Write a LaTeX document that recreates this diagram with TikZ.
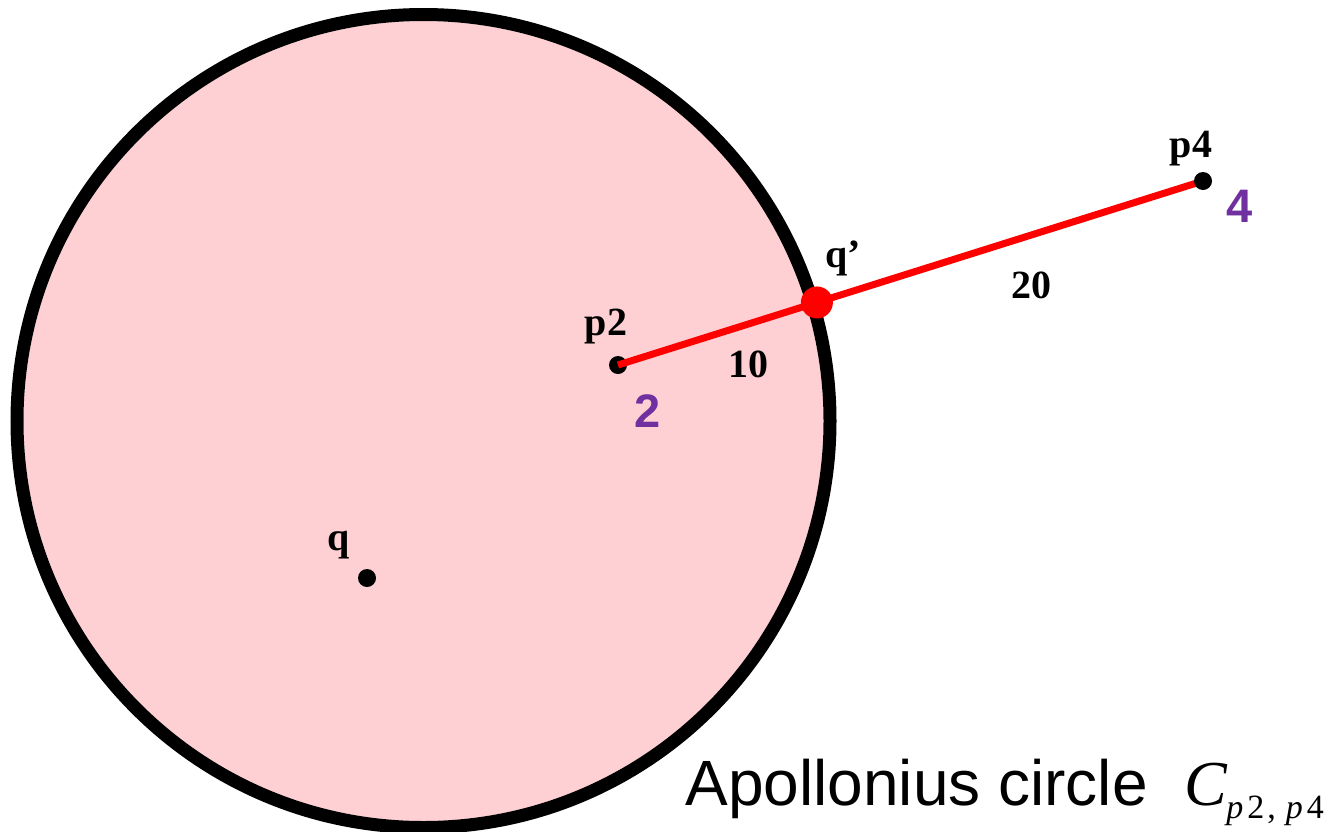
\documentclass[tikz,border=0pt]{standalone}
\usepackage{fontspec}
\setmainfont{Liberation Serif}
\newfontfamily\labsans{Liberation Sans}
\usetikzlibrary{calc}
\definecolor{pinkfill}{RGB}{255,208,211}
\definecolor{labpurple}{RGB}{112,48,160}
\begin{document}
\begin{tikzpicture}[x=0.5pt,y=-0.5pt,
  dot/.style={circle,fill=black,inner sep=0pt,minimum size=9pt},
  reddot/.style={circle,fill=red,inner sep=0pt,minimum size=16pt},
  lab/.style={font=\fontsize{20pt}{24pt}\selectfont\bfseries,anchor=base,inner sep=0pt},
  wlab/.style={font=\labsans\fontsize{23.5pt}{28pt}\selectfont\bfseries,text=labpurple,anchor=base,inner sep=0pt},
  seg/.style={draw=red,line width=3.5pt}]
\useasboundingbox (0,0) rectangle (1333,831);
\coordinate (c) at (423.5,421);
\fill[pinkfill] (c) circle[radius=200pt];
\draw[line width=6.5pt] (c) circle[radius=203.25pt];
\node[dot] (p2) at (618,365) {};
\node[dot] (q) at (367,578) {};
\coordinate (p4c) at (1203,181);
\draw[seg] (p2.center) -- (p4c);
\node[dot] (p4) at (p4c) {};
\node[reddot] (qp) at ($(p2.center)!0.34!(p4c)$) {};
\node[lab] (lp2) at (606,335) {p2};
\node[lab] (l10) at (748,377) {10};
\node[lab] (lp4) at (1191,157) {p4};
\node[lab] (lqp) at (843,267) {q’};
\node[lab] (l20) at (1031,298) {20};
\node[lab] (lq) at (339,550) {q};
\node[wlab] (w2) at (648,427) {2};
\node[wlab] (w4) at (1240,222) {4};
\node[anchor=base west,inner sep=0pt,font=\labsans\fontsize{32pt}{38pt}\selectfont] (title) at (685,805) {Apollonius circle};
\node[anchor=base west,inner sep=0pt,font=\fontsize{32pt}{38pt}\selectfont\itshape] (cc) at (1184,805) {C};
\node[anchor=base west,inner sep=0pt,font=\fontsize{17pt}{20pt}\selectfont] (sub) at (1226,818) {\textit{p}\kern2pt2\kern1.5pt,\kern5pt\textit{p}\kern2pt4};
\end{tikzpicture}
\end{document}
